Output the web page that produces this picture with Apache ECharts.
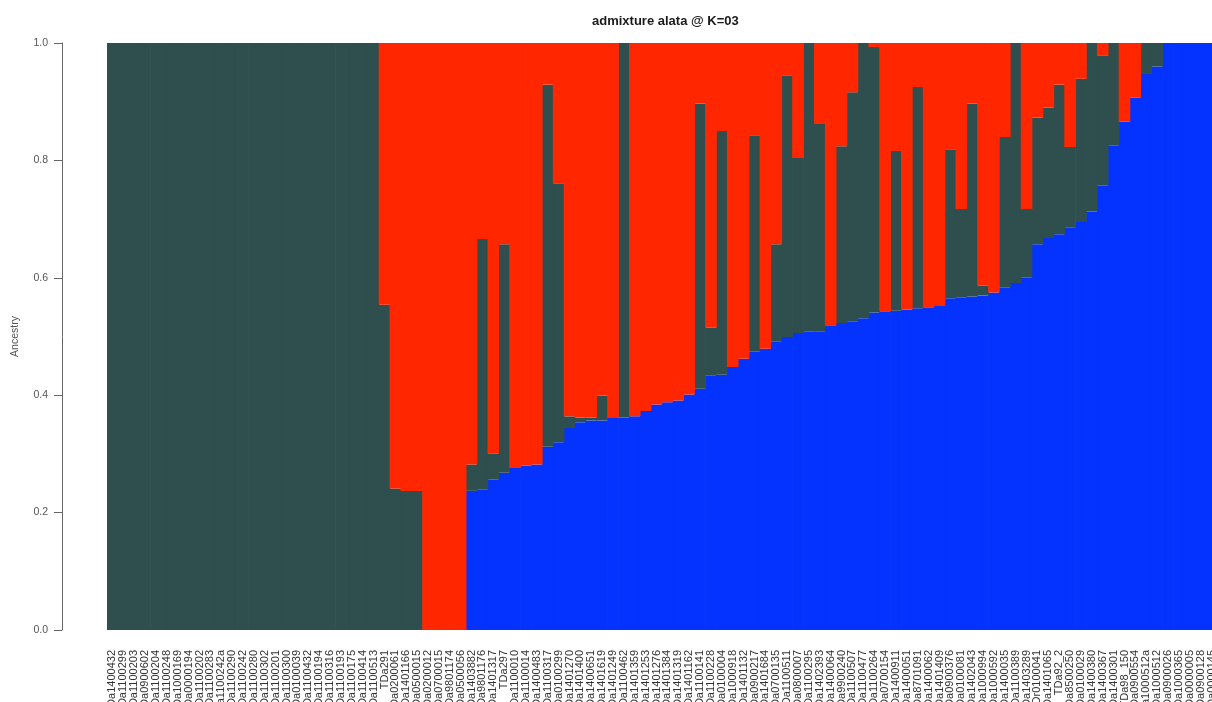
<!DOCTYPE html>
<html>
<head>
<meta charset="utf-8">
<title>admixture alata @ K=03</title>
<script src="https://cdn.jsdelivr.net/npm/echarts@6/dist/echarts.min.js"></script>
<style>
  html, body { margin: 0; padding: 0; background: #ffffff; }
  #chart { width: 1212px; height: 702px; }
</style>
</head>
<body>
<div id="chart"></div>
<script>
// Sample names, in plotting order
const samples = [
  'Da1400432','Da1100299','Da1100203','Da0900602','Da1100204','Da1100248','Da1000169','Da0000194',
  'Da1100202','Da1100283','Da1100242a','Da1100290','Da1100242','Da1100280','Da1100302','Da1100201',
  'Da1100300','Da0100039','Da1100432','Da1100194','Da1100316','Da1100193','Da1100175','Da1100414',
  'Da1100513','TDa291','Da0200061','Da1401166','Da0500015','Da0200012','Da0700015','Da9801174',
  'Da0500056','Da1403882','Da9801176','Da1401317','TDa297','Da1100010','Da1100014','Da1400483',
  'Da1100317','Da0100299','Da1401270','Da1401400','Da1400651','Da1401619','Da1401249','Da1100462',
  'Da1401359','Da1401253','Da1401276','Da1401384','Da1401319','Da1401162','Da1100141','Da1100228',
  'Da0100004','Da1000918','Da1401132','Da0900217','Da1401684','Da0700135','Da1100511','Da0800007',
  'Da1100295','Da1402393','Da1400064','Da9900240','Da1100507','Da1100477','Da1100264','Da0700154',
  'Da1400911','Da1400051','Da8701091','Da1400062','Da1401409','Da0900376','Da0100081','Da1402043',
  'Da1000994','Da1000592','Da1400035','Da1100389','Da1403289','Dr0100041','Da1401065','TDa92_2',
  'Da8500250','Da0100029','Da1400380','Da1400367','Da1400301','TDa98_150','Da0900554','Da1000512a',
  'Da1000512','Da0900026','Da1000365','Da0000005','Da0900128','Da0000145'
];

// Ancestry proportions per cluster (stacked bottom to top: blue, slate, red)
const clusterBlue = [
  0,0,0,0,0,0,0,0,0,0,0,0,0,0,0,0,0,0,0,0,0,0,0,0,0,
  0,0,0,0,0,0,0,0,
  0.237,0.239,0.256,0.268,0.276,0.280,0.282,0.312,0.320,0.344,0.354,0.357,0.357,0.361,0.362,
  0.364,0.373,0.384,0.388,0.391,0.401,0.411,0.434,0.435,0.448,0.462,0.474,0.479,0.492,0.499,
  0.506,0.508,0.509,0.519,0.523,0.526,0.531,0.541,0.543,0.544,0.546,0.548,0.550,0.552,0.565,
  0.566,0.568,0.570,0.575,0.583,0.591,0.600,0.657,0.668,0.674,0.686,0.695,0.713,0.757,0.826,
  0.866,0.907,0.947,0.960,
  1,1,1,1,1
];

const clusterSlate = [
  1,1,1,1,1,1,1,1,1,1,1,1,1,1,1,1,1,1,1,1,1,1,1,1,1,
  0.554,0.241,0.237,0.237,0,0,0,0,
  0.045,0.427,0.045,0.389,0,0,0,0.617,0.441,0.020,0.008,0.005,0.042,0,0.638,
  0,0,0,0,0,0,0.486,0.081,0.415,0,0,0.369,0,0.165,0.445,
  0.298,0.492,0.353,0,0.301,0.390,0.469,0.452,0,0.272,0,0.377,0,0,0.254,
  0.151,0.329,0.017,0,0.257,0.409,0.117,0.216,0.222,0.255,0.137,0.244,0.287,0.221,0.174,
  0,0,0.053,0.040,
  0,0,0,0,0
];

const clusterRed = [
  0,0,0,0,0,0,0,0,0,0,0,0,0,0,0,0,0,0,0,0,0,0,0,0,0,
  0.446,0.759,0.763,0.763,1,1,1,1,
  0.718,0.334,0.699,0.343,0.724,0.720,0.718,0.071,0.239,0.636,0.638,0.638,0.601,0.639,0,
  0.636,0.627,0.616,0.612,0.609,0.599,0.103,0.485,0.150,0.552,0.538,0.157,0.521,0.343,0.056,
  0.196,0,0.138,0.481,0.176,0.084,0,0.007,0.457,0.184,0.454,0.075,0.450,0.448,0.181,
  0.283,0.103,0.413,0.425,0.160,0,0.283,0.127,0.110,0.071,0.177,0.061,0,0.022,0,
  0.134,0.093,0,0,
  0,0,0,0,0
];

const yTicks = [0, 0.2, 0.4, 0.6, 0.8, 1.0];

const chart = echarts.init(document.getElementById('chart'), null, { renderer: 'canvas' });

// Bars are drawn slightly wider than their band so neighbours overlap and no seams show
function barSeries(name, data, color) {
  return {
    name: name,
    type: 'bar',
    stack: 'q',
    data: data,
    barWidth: 11.6,
    itemStyle: { color: color, borderWidth: 0 },
    emphasis: { disabled: true },
    animation: false
  };
}

chart.setOption({
  backgroundColor: '#ffffff',
  animation: false,
  title: {
    text: 'admixture alata @ K=03',
    left: 587,
    top: 10,
    textStyle: {
      fontFamily: 'Liberation Sans, Arial, sans-serif',
      fontSize: 13,
      fontWeight: 'bold',
      color: '#1a1a1a'
    }
  },
  // fixed plot box; sample names run off the bottom edge
  grid: { left: 107, right: -5, top: 43, bottom: 72, containLabel: false, outerBoundsMode: 'none' },
  xAxis: {
    type: 'category',
    data: samples,
    axisLine: { show: false },
    axisTick: { show: false },
    splitLine: { show: false },
    axisLabel: {
      interval: 0,
      rotate: 90,
      margin: 20,
      fontSize: 11,
      fontFamily: 'Liberation Sans, Arial, sans-serif',
      color: '#333333'
    }
  },
  yAxis: {
    type: 'value',
    min: 0,
    max: 1,
    interval: 0.2,
    offset: 45,
    name: 'Ancestry',
    nameLocation: 'middle',
    nameGap: 41,
    nameTextStyle: {
      fontSize: 10.5,
      fontFamily: 'Liberation Sans, Arial, sans-serif',
      color: '#555555'
    },
    axisLine: { show: true, lineStyle: { color: '#666666', width: 1 } },
    axisTick: { show: true, length: 8, lineStyle: { color: '#666666', width: 1 } },
    splitLine: { show: false },
    axisLabel: {
      margin: 14,
      fontSize: 10.5,
      fontFamily: 'Liberation Sans, Arial, sans-serif',
      color: '#555555',
      customValues: yTicks,
      formatter: v => v.toFixed(1)
    }
  },
  series: [
    barSeries('K1', clusterBlue, '#0433FF'),
    barSeries('K2', clusterSlate, '#2F4F4F'),
    barSeries('K3', clusterRed, '#FF2600')
  ]
});
</script>
</body>
</html>
